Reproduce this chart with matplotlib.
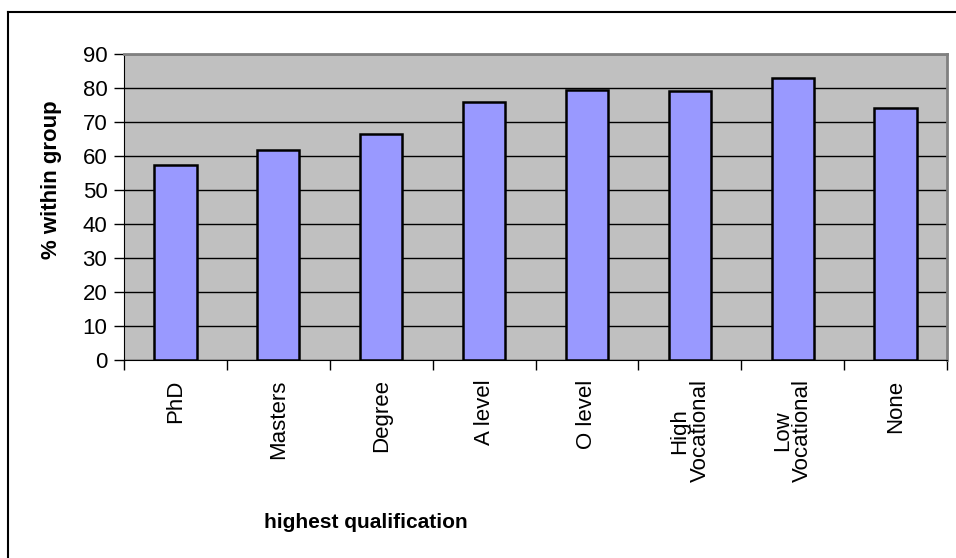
import matplotlib.pyplot as plt
from matplotlib.lines import Line2D
import numpy as np

plt.rcParams['font.family'] = ['Liberation Sans', 'DejaVu Sans']

categories = ['PhD', 'Masters', 'Degree', 'A level', 'O level',
              'High\nVocational', 'Low\nVocational', 'None']
values = [57.4, 61.8, 66.5, 76.0, 79.4, 79.1, 83.0, 74.0]

fig = plt.figure(figsize=(9.56, 5.58), dpi=100)
ax = fig.add_axes([124/956, 1 - 360/558, (947-124)/956, (360-54)/558])

x = np.arange(len(categories))
ax.set_facecolor('#c0c0c0')
ax.yaxis.grid(True, color='black', linewidth=1.0)
ax.set_axisbelow(True)
ax.bar(x, values, width=0.41, color='#9999ff', edgecolor='black', linewidth=1.8, zorder=3)

ax.set_xlim(-0.5, len(categories) - 0.5)
ax.set_ylim(0, 90)
ax.set_yticks(range(0, 91, 10))
ax.tick_params(axis='y', labelsize=16, length=7, direction='out', width=1, pad=5)

# category labels between boundary ticks
ax.set_xticks(np.arange(-0.5, len(categories), 1.0))
ax.set_xticklabels([])
ax.tick_params(axis='x', length=7, width=1, direction='out')
ax.set_xticks(x, minor=True)
ax.set_xticklabels(categories, minor=True, rotation=90, fontsize=16, va='top', ha='center',
                   linespacing=0.95)
ax.tick_params(axis='x', which='minor', length=0, pad=14)

for side in ['top', 'right']:
    ax.spines[side].set_color('#808080')
    ax.spines[side].set_linewidth(2)
ax.spines['left'].set_color('black')
ax.spines['bottom'].set_color('black')

fig.text(52/956, 1 - 180/558, '% within group', fontsize=16, fontweight='bold',
         rotation=90, ha='center', va='center')
fig.text(366/956, 1 - 523/558, 'highest qualification', fontsize=15, fontweight='bold',
         ha='center', va='center')

# outer chart frame
fig.add_artist(Line2D([8/956, 8/956], [0, 1 - 12/558], transform=fig.transFigure, color='black', lw=1.5))
fig.add_artist(Line2D([8/956, 1], [1 - 12/558, 1 - 12/558], transform=fig.transFigure, color='black', lw=1.5))

fig.savefig('out.png', dpi=100)
